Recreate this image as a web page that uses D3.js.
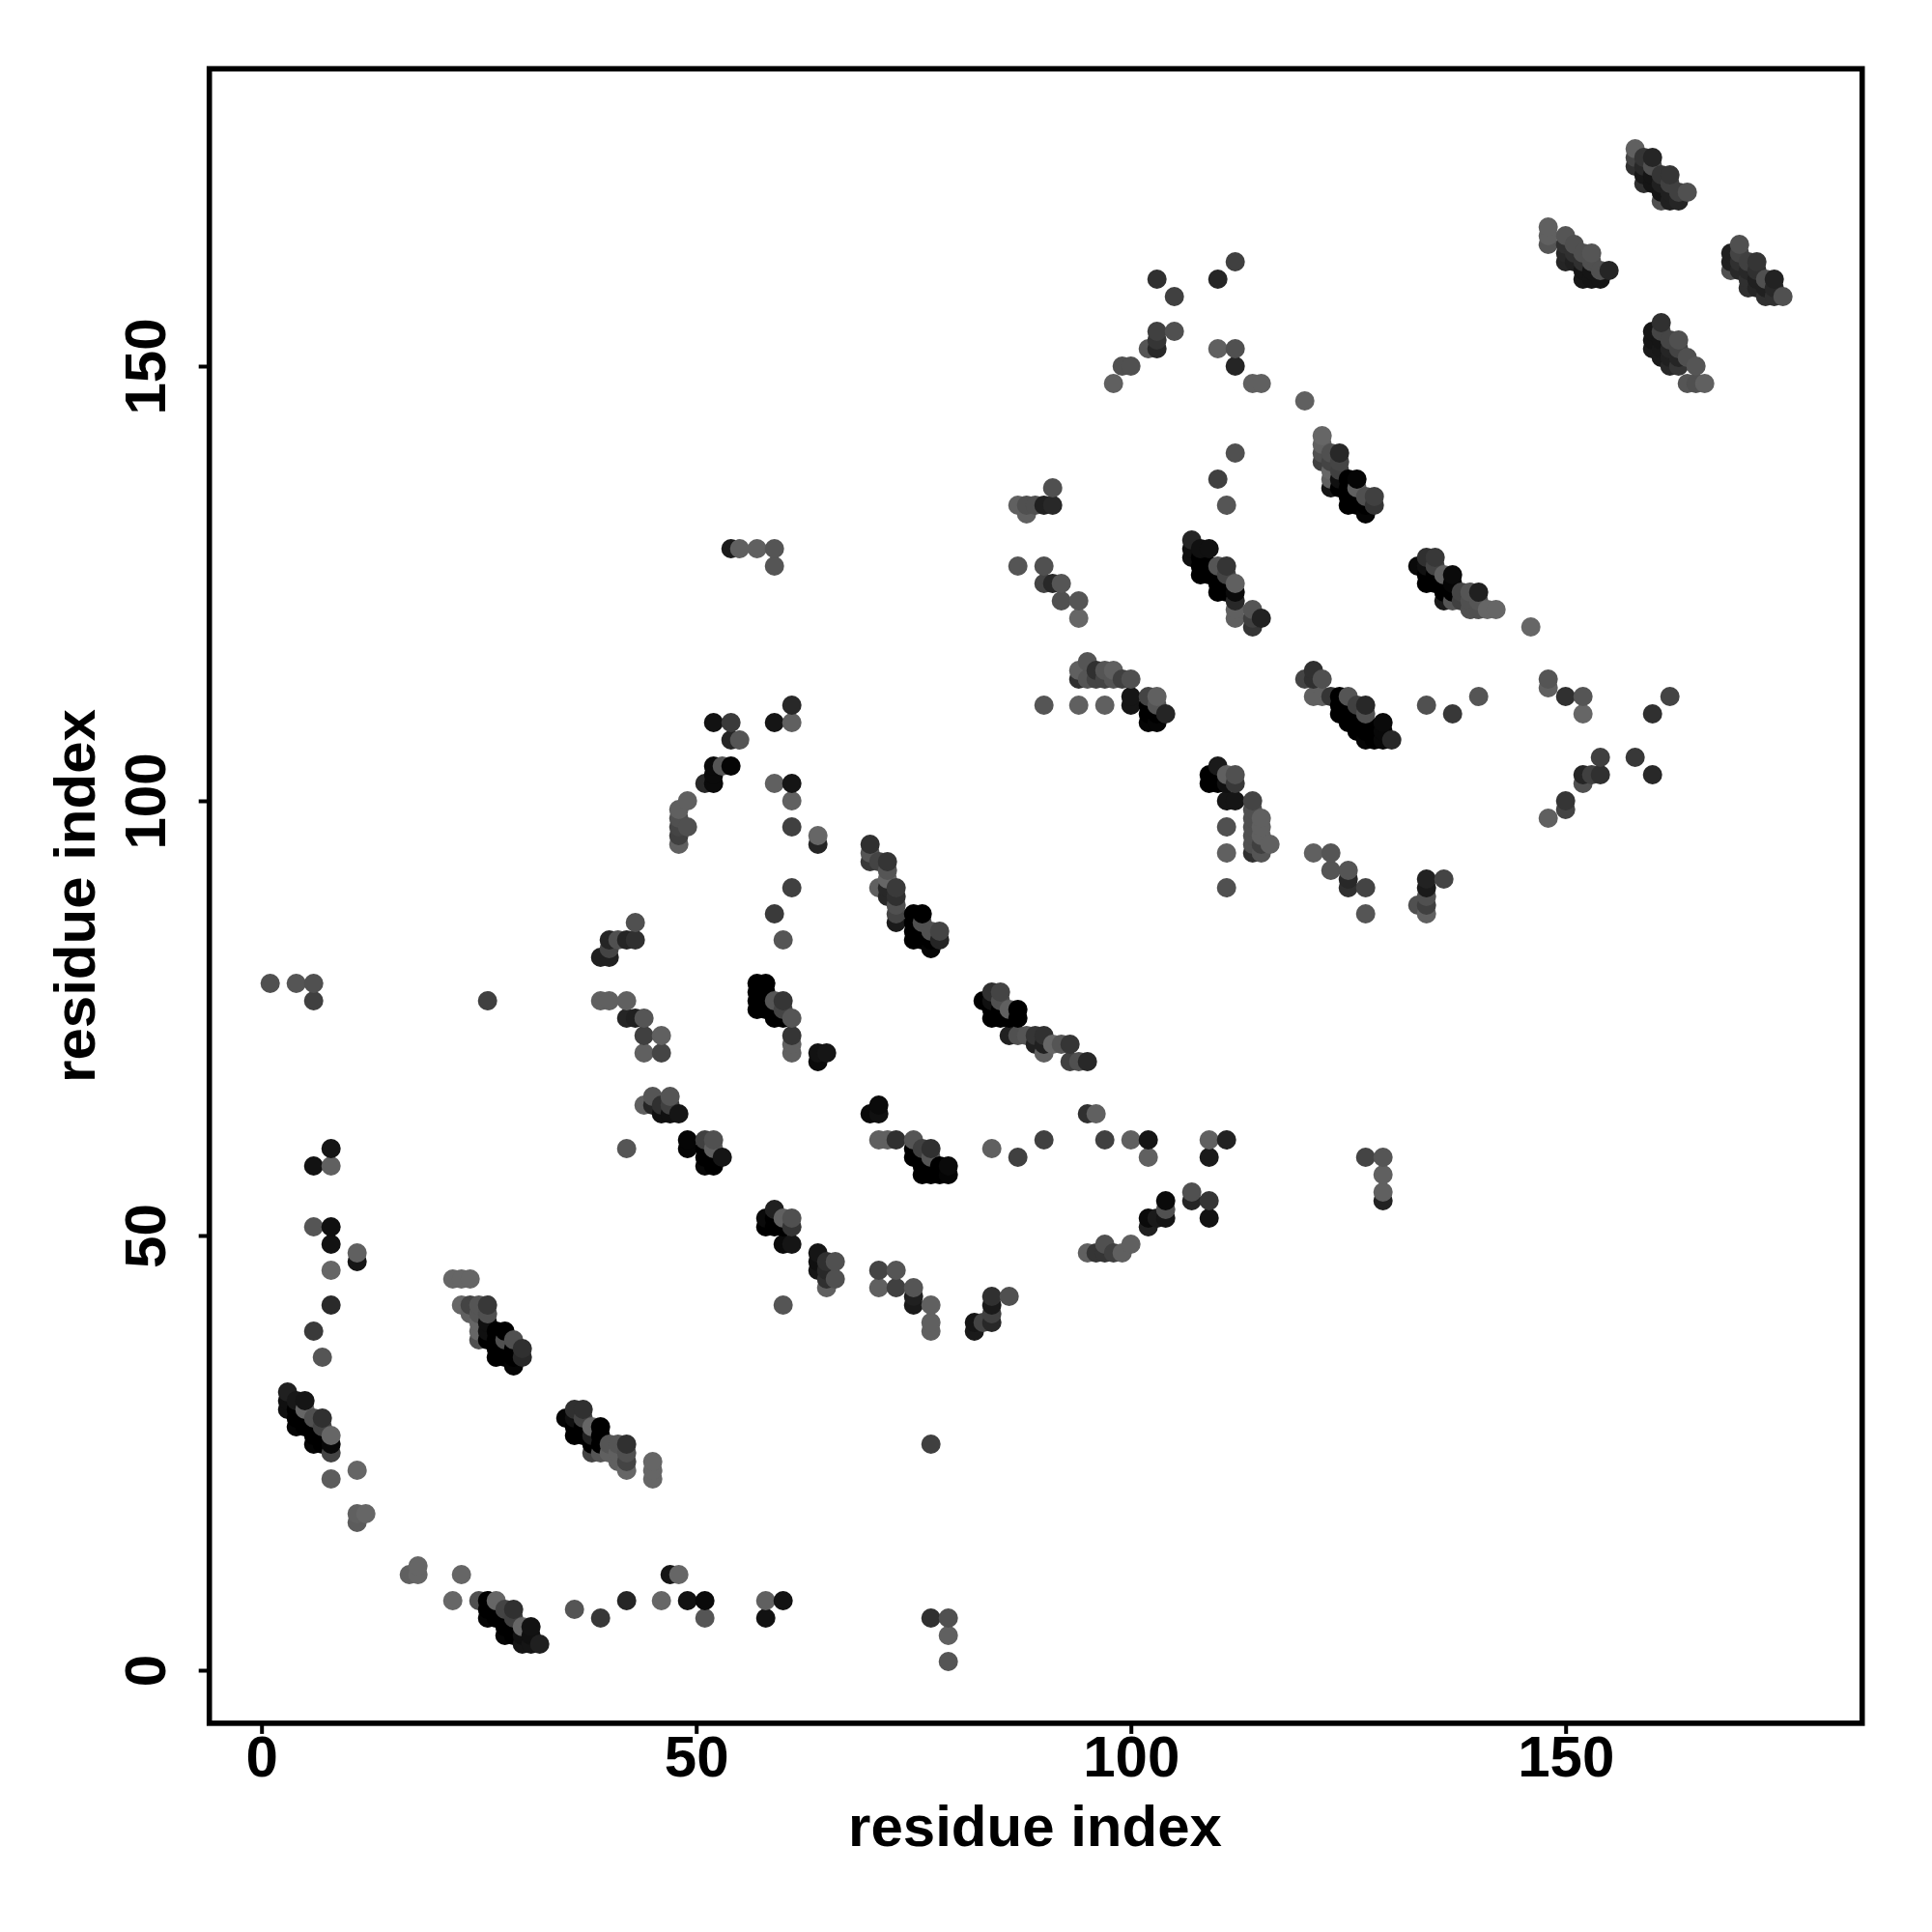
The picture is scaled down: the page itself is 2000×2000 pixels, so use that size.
<!DOCTYPE html>
<html><head><meta charset="utf-8">
<script src="https://d3js.org/d3.v7.min.js"></script>
<style>html,body{margin:0;background:#fff}svg{display:block}</style></head>
<body><svg id="c" width="2000" height="2000"></svg>
<script>
// each contact: [residue i, residue j, grey level]
const lowerLeftA=[[3,32,0x20],[3,31,0x10],[3,30,0x10],[4,31,0x18],[4,30,0],[4,29,0],[4,28,0x05],[5,31,0x15],[5,30,0x66],[5,29,0],[5,28,0],[6,29,0x50],[6,28,0],[6,27,0],[6,26,0x05],[7,29,0x30],[7,28,0x44],[7,27,0],[7,26,0],[8,27,0x66],[8,26,0x08],[8,25,0x44],[8,22,0x5c],[11,23,0x66],[11,18,0x60],[11,17,0x5c],[12,18,0x66]];
const lowerLeftB=[[6,39,0x3a],[7,36,0x55],[8,42,0x2a],[8,46,0x66],[11,47,0x15],[11,48,0x60],[6,51,0x55],[8,51,0x10],[8,49,0x12],[6,58,0x12],[8,58,0x60],[8,60,0x15],[1,79,0x50],[4,79,0x55],[6,79,0x50],[6,77,0x40],[26,77,0x40],[77,26,0x40]];
const helixB=[[22,45,0x66],[23,45,0x66],[24,45,0x66],[23,42,0x66],[24,42,0x44],[24,41,0x60],[25,42,0x55],[25,41,0x55],[25,40,0x66],[25,39,0x66],[25,38,0x50],[26,42,0x38],[26,41,0x50],[26,40,0x10],[26,39,0x10],[26,38,0],[27,39,0],[27,38,0],[27,37,0],[27,36,0],[28,39,0],[28,38,0x50],[28,37,0],[28,36,0],[29,38,0x50],[29,37,0],[29,36,0],[29,35,0x05],[30,37,0x30],[30,36,0x28]];
const helixC=[[35,29,0x05],[36,30,0x30],[36,29,0x10],[36,28,0],[36,27,0],[37,30,0x30],[37,29,0x44],[37,28,0],[37,27,0],[38,28,0x66],[38,27,0x20],[38,26,0],[38,25,0x44],[39,28,0],[39,27,0],[39,26,0],[39,25,0x55],[40,26,0x55],[40,25,0x60],[41,26,0x55],[41,25,0x60],[41,24,0x60],[42,26,0x30],[42,25,0x50],[42,24,0x44],[42,23,0x66],[45,24,0x66],[45,23,0x66],[45,22,0x66]];
const bottomRow=[[17,11,0x60],[18,12,0x66],[18,11,0x66],[23,11,0x66],[22,8,0x66],[25,8,0x50],[26,8,0],[26,7,0],[26,6,0x05],[27,8,0x66],[27,7,0],[27,6,0],[28,7,0x44],[28,6,0],[28,5,0],[28,4,0x05],[29,7,0x30],[29,6,0x40],[29,5,0],[29,4,0],[30,5,0x66],[30,4,0x10],[30,3,0x15],[31,5,0x12],[31,4,0x10],[31,3,0x15],[32,3,0x20],[36,7,0x55],[39,6,0x38],[42,8,0x25],[46,8,0x66],[47,11,0x15],[48,11,0x66],[49,8,0x12],[51,8,0x0a],[51,6,0x55],[58,8,0x60],[58,6,0x12],[60,8,0x12],[77,6,0x30],[79,6,0x50],[79,4,0x60],[79,1,0x55]];
const midA=[[57,79,0],[57,78,0],[57,77,0],[57,76,0],[58,79,0],[58,78,0],[58,77,0],[58,76,0],[59,77,0x55],[59,76,0],[59,75,0],[60,77,0x35],[60,76,0x44],[60,75,0],[61,75,0x55],[61,73,0x35],[61,72,0x60],[61,71,0x60],[64,71,0x12],[64,70,0x0a],[65,71,0x15],[60,42,0x55]];
const midB=[[83,77,0],[84,78,0x30],[84,77,0x10],[84,76,0],[84,75,0],[85,78,0x44],[85,77,0x50],[85,76,0],[85,75,0],[86,76,0x60],[86,75,0],[87,76,0],[87,75,0],[86,73,0x20],[87,73,0x50],[88,73,0x55],[89,73,0x35],[89,72,0x20],[90,73,0x30],[90,72,0x20],[90,71,0x60],[91,72,0x66],[92,72,0x55],[93,72,0x35],[93,70,0x40],[94,70,0x50],[95,70,0x28]];
const midC=[[70,64,0x0a],[71,65,0x0a],[71,64,0x10],[71,61,0x60],[72,61,0x60],[73,61,0x30],[75,61,0x55],[75,60,0],[75,59,0],[76,60,0x40],[76,59,0],[76,58,0],[76,57,0],[77,60,0x30],[77,59,0x55],[77,58,0],[77,57,0],[78,58,0],[78,57,0],[79,58,0x0a],[79,57,0x05],[84,60,0x60],[87,59,0x40],[90,61,0x40],[95,64,0x30],[96,64,0x60],[97,61,0x40],[100,61,0x60],[102,61,0x15],[102,59,0x60],[109,61,0x60],[111,61,0x22],[109,59,0x1a]];
const midD=[[102,52,0x0a],[102,51,0x20],[103,52,0x1a],[104,54,0x0a],[104,53,0x50],[104,52,0x15],[107,55,0x50],[107,54,0x25],[109,54,0x35],[109,52,0x12],[95,48,0x60],[96,48,0x35],[97,49,0x50],[97,48,0x35],[98,48,0x40],[99,48,0x60],[100,49,0x60],[127,59,0x44],[129,59,0x55],[129,57,0x60],[129,55,0x60],[129,54,0x22]];
const midE=[[59,53,0x20],[58,52,0x0a],[58,51,0],[59,52,0],[59,51,0],[60,52,0x60],[60,51,0],[60,49,0x0a],[61,52,0x50],[61,51,0x35],[61,49,0x15],[64,48,0x15],[64,47,0x10],[64,46,0x15],[65,47,0x30],[65,46,0x28],[65,45,0x30],[65,44,0x60],[66,47,0x50],[66,45,0x50],[71,46,0x44],[73,46,0x55],[71,44,0x60],[73,44,0x40],[75,44,0x55],[75,43,0x20],[75,42,0x1a],[77,42,0x60],[77,40,0x60],[77,39,0x60],[82,40,0x15],[82,39,0x1a],[83,40,0x44],[84,43,0x30],[84,42,0x1a],[84,41,0x40],[84,40,0x28],[86,43,0x50]];
const upperA=[[61,111,0x28],[52,109,0x12],[54,109,0x3a],[59,109,0x15],[61,109,0x60],[54,107,0x25],[55,107,0x55],[52,104,0x0a],[53,104,0x55],[54,104,0x05],[52,103,0x0a],[51,102,0x28],[52,102,0x0a],[59,102,0x60],[61,102,0x15],[61,100,0x60],[61,97,0x40],[49,100,0x60],[48,99,0x60],[48,98,0x50],[48,97,0x45],[49,97,0x50],[48,96,0x40],[48,95,0x60],[64,96,0x66],[64,95,0x25],[61,90,0x40],[59,87,0x3a],[60,84,0x55],[54,129,0x1a],[55,129,0x60],[57,129,0x60],[59,129,0x55],[59,127,0x55]];
const upperB=[[70,95,0x30],[70,94,0x55],[70,93,0x38],[71,93,0x44],[72,93,0x35],[72,92,0x55],[72,91,0x66],[71,90,0x60],[72,90,0x28],[72,89,0x28],[73,90,0x3a],[73,89,0x30],[73,88,0x50],[73,87,0x44],[73,86,0x1a],[75,87,0],[75,86,0],[75,85,0],[75,84,0],[76,87,0],[76,86,0x50],[76,85,0],[76,84,0],[77,85,0x50],[77,84,0],[77,83,0x05],[78,85,0x44],[78,84,0x25]];
const upperC=[[43,86,0x50],[40,84,0x25],[41,84,0x50],[42,84,0x25],[43,84,0x30],[39,82,0x20],[40,83,0x44],[40,82,0x20],[39,77,0x60],[40,77,0x60],[42,77,0x60],[42,75,0x25],[43,75,0x20],[44,75,0x55],[44,73,0x40],[46,73,0x60],[44,71,0x60],[46,71,0x45],[44,65,0x60],[45,66,0x55],[45,65,0x25],[46,65,0x30],[46,64,0x10],[47,66,0x55],[47,65,0x40],[47,64,0x10],[48,64,0x15],[42,60,0x55],[49,61,0x05],[49,60,0x05],[51,61,0x40],[51,60,0],[51,59,0],[51,58,0x08],[52,61,0x50],[52,60,0x60],[52,59,0],[52,58,0],[53,59,0x15]];
const upperD=[[91,136,0x50],[87,134,0x60],[88,134,0x50],[89,134,0x50],[90,134,0x20],[91,134,0x28],[88,133,0x60],[87,127,0x55],[90,127,0x50],[90,125,0x44],[91,125,0x28],[92,125,0x55],[92,123,0x50],[94,123,0x55],[94,121,0x66],[95,116,0x55],[94,115,0x60],[96,115,0x30],[97,115,0x55],[98,115,0x60],[94,114,0x30],[95,114,0x55],[96,114,0x44],[97,114,0x44],[98,114,0x55],[99,114,0x40],[100,114,0x50],[90,111,0x55],[94,111,0x60],[97,111,0x60],[100,112,0x15],[100,111,0x15],[102,112,0x44],[102,111,0],[102,110,0],[102,109,0x05],[103,112,0x60],[103,111,0x55],[103,110,0],[103,109,0x05],[104,110,0x25]];
const upperE=[[107,130,0x25],[107,129,0x10],[107,128,0x10],[108,129,0x10],[108,128,0],[108,127,0],[108,126,0],[109,129,0x10],[109,127,0],[109,126,0],[110,127,0x55],[110,125,0],[110,124,0],[111,127,0x35],[111,126,0x44],[111,125,0],[111,124,0],[112,125,0x60],[112,124,0x0a],[112,123,0x28],[112,122,0x60],[112,121,0x60],[114,122,0x55],[114,121,0x40],[114,120,0x35],[115,121,0x22],[110,137,0x40],[112,140,0x50],[111,134,0x55]];
const upperF=[[122,142,0x66],[122,141,0x60],[122,140,0x50],[122,139,0x40],[123,140,0x50],[123,139,0x44],[123,138,0x66],[123,137,0x60],[123,136,0x15],[124,140,0x28],[124,139,0x45],[124,138,0x40],[124,137,0x10],[124,136,0],[125,137,0],[125,136,0],[125,135,0],[125,134,0],[126,137,0x05],[126,136,0x60],[126,135,0],[126,134,0],[127,135,0x50],[127,134,0],[127,133,0x05],[128,135,0x40],[128,134,0x35]];
const upperG=[[133,127,0x0a],[134,128,0x30],[134,127,0x10],[134,126,0],[134,125,0],[135,128,0x38],[135,127,0x44],[135,126,0],[135,125,0],[136,126,0x60],[136,125,0],[136,124,0],[136,123,0x1a],[137,126,0x0a],[137,125,0x05],[137,124,0],[137,123,0x55],[138,124,0x45],[138,123,0x40],[139,124,0x55],[139,123,0x50],[139,122,0x50],[140,124,0x20],[140,123,0x55],[140,122,0x50],[141,122,0x66],[142,122,0x66],[146,120,0x66]];
const upperH=[[120,114,0x44],[121,115,0x30],[121,114,0x30],[122,114,0x50],[121,112,0x60],[122,112,0x60],[123,112,0x35],[124,112,0],[124,111,0],[124,110,0],[125,112,0x55],[125,111,0],[125,110,0],[125,109,0],[126,111,0x40],[126,110,0],[126,109,0],[126,108,0],[127,111,0x28],[127,110,0x50],[127,109,0],[127,108,0],[127,107,0x05],[128,108,0],[128,107,0],[129,109,0x0a],[129,108,0x08],[129,107,0x08],[130,107,0x28],[134,111,0x50],[137,110,0x38],[140,112,0x55]];
const upperI=[[110,104,0x1a],[109,103,0],[109,102,0],[110,103,0],[110,102,0],[111,103,0x60],[111,102,0x10],[112,103,0x50],[112,102,0x38],[111,100,0x15],[112,100,0x15],[114,100,0x44],[114,99,0x50],[114,98,0x50],[114,97,0x50],[114,96,0x50],[114,95,0x50],[114,94,0x30],[115,98,0x60],[115,97,0x60],[115,96,0x60],[115,95,0x40],[115,94,0x55],[116,95,0x60],[111,97,0x50],[111,94,0x60],[111,90,0x50],[121,94,0x60],[123,94,0x55],[123,92,0x55],[125,92,0x55],[125,91,0x28],[125,90,0x30],[127,90,0x44],[127,87,0x55],[134,91,0x22],[134,90,0x1a],[134,89,0x50],[134,88,0x40],[134,87,0x60],[133,88,0x50],[136,91,0x44]];
const farRight=[[148,114,0x55],[148,113,0x60],[150,112,0x30],[152,112,0x55],[152,110,0x66],[160,110,0x30],[162,112,0x44],[154,105,0x40],[158,105,0x38],[152,103,0x25],[153,103,0x40],[154,103,0x30],[160,103,0x28],[152,102,0x50],[150,100,0x35],[150,99,0x44],[148,98,0x60]];
const topA=[[103,160,0x30],[105,158,0x40],[103,154,0x40],[105,154,0x50],[103,153,0x35],[103,152,0x28],[102,152,0x55],[99,150,0x50],[100,150,0x50],[98,148,0x60],[110,160,0x25],[112,162,0x40],[110,152,0x60],[112,152,0x50],[112,150,0x25],[114,148,0x60],[115,148,0x60],[120,146,0x60]];
const topB=[[158,175,0x60],[158,174,0x44],[158,173,0x30],[159,174,0x35],[159,173,0x28],[159,172,0x18],[159,171,0x30],[160,174,0x25],[160,173,0x50],[160,172,0x15],[160,171,0x15],[161,172,0x35],[161,171,0x20],[161,170,0x15],[161,169,0x50],[162,172,0x35],[162,171,0x40],[162,170,0x20],[162,169,0x20],[163,170,0x40],[163,169,0x25],[164,170,0x50]];
const topC=[[148,166,0x60],[148,165,0x60],[148,164,0x55],[150,165,0x55],[150,164,0x30],[150,163,0x28],[150,162,0x25],[151,164,0x50],[151,163,0x30],[151,162,0x20],[152,163,0x50],[152,162,0x30],[152,161,0x15],[152,160,0x18],[153,163,0x55],[153,162,0x50],[153,161,0x15],[153,160,0x15],[154,161,0x50],[154,160,0x15],[155,161,0x25]];
const topD=[[161,155,0x30],[160,154,0x15],[160,153,0x15],[160,152,0x1a],[161,154,0x45],[161,153,0x15],[161,152,0x18],[161,151,0x1a],[162,153,0x45],[162,152,0x25],[162,151,0x20],[162,150,0x28],[163,153,0x50],[163,152,0x44],[163,151,0x25],[163,150,0x35],[164,151,0x50],[165,150,0x55],[164,148,0x55],[165,148,0x50],[166,148,0x60]];
const topE=[[169,163,0x20],[169,162,0x20],[169,161,0x50],[170,164,0x50],[170,163,0x44],[170,162,0x30],[170,161,0x28],[171,162,0x40],[171,161,0x28],[171,160,0x30],[171,159,0x30],[172,162,0x35],[172,161,0x30],[172,160,0x20],[172,159,0x25],[173,160,0x50],[173,159,0x20],[173,158,0x30],[174,160,0x22],[174,159,0x28],[174,158,0x30],[175,158,0x50]];

const contacts=[].concat(lowerLeftA,lowerLeftB,helixB,helixC,bottomRow,midA,midB,midC,midD,midE,upperA,upperB,upperC,upperD,upperE,upperF,upperG,upperH,upperI,farRight,topA,topB,topC,topD,topE);
const tickValues=[0,50,100,150];
const axisTitle="residue index";

const font='"Liberation Sans",Arial,sans-serif';
const x=d3.scaleLinear().domain([-6,184.11]).range([216.7,1927.7]);
const y=d3.scaleLinear().domain([-6.1,184.2]).range([1783.9,71.2]);
const svg=d3.select("#c");

const sorted=contacts.slice().sort((a,b)=>d3.ascending(a[0],b[0])||d3.ascending(a[1],b[1]));
svg.append("g").selectAll("circle").data(sorted).join("circle")
  .attr("cx",d=>x(d[0])).attr("cy",d=>y(d[1])).attr("r",10)
  .attr("fill",d=>d3.rgb(d[2],d[2],d[2]));

svg.append("rect").attr("x",x.range()[0]).attr("y",y.range()[1])
  .attr("width",x.range()[1]-x.range()[0]).attr("height",y.range()[0]-y.range()[1])
  .attr("fill","none").attr("stroke","#000").attr("stroke-width",5.6);

const style=(g)=>{g.select(".domain").remove();g.selectAll("line").attr("stroke","#000").attr("stroke-width",4);
  g.selectAll("text").attr("font-family",font).attr("font-weight","bold").attr("font-size",60).attr("fill","#000");};

const gx=svg.append("g").attr("transform",`translate(0,${y.range()[0]})`)
  .call(d3.axisBottom(x).tickValues(tickValues).tickSize(11).tickPadding(0).tickFormat(d3.format("d"))).call(style);
gx.selectAll("text").attr("y",55.5).attr("dy",0);

const gy=svg.append("g").attr("transform",`translate(${x.range()[0]},0)`)
  .call(d3.axisLeft(y).tickValues(tickValues).tickSize(11).tickFormat(d3.format("d"))).call(style);
gy.selectAll("text").attr("x",0).attr("dy",0).attr("text-anchor","middle")
  .attr("transform",`translate(-45.5,0) rotate(-90)`);

svg.append("text").attr("x",1071.5).attr("y",1911).attr("text-anchor","middle")
  .attr("font-family",font).attr("font-weight","bold").attr("font-size",60).text(axisTitle);
svg.append("text").attr("transform","translate(98,927.5) rotate(-90)").attr("text-anchor","middle")
  .attr("font-family",font).attr("font-weight","bold").attr("font-size",60).text(axisTitle);
</script></body></html>
